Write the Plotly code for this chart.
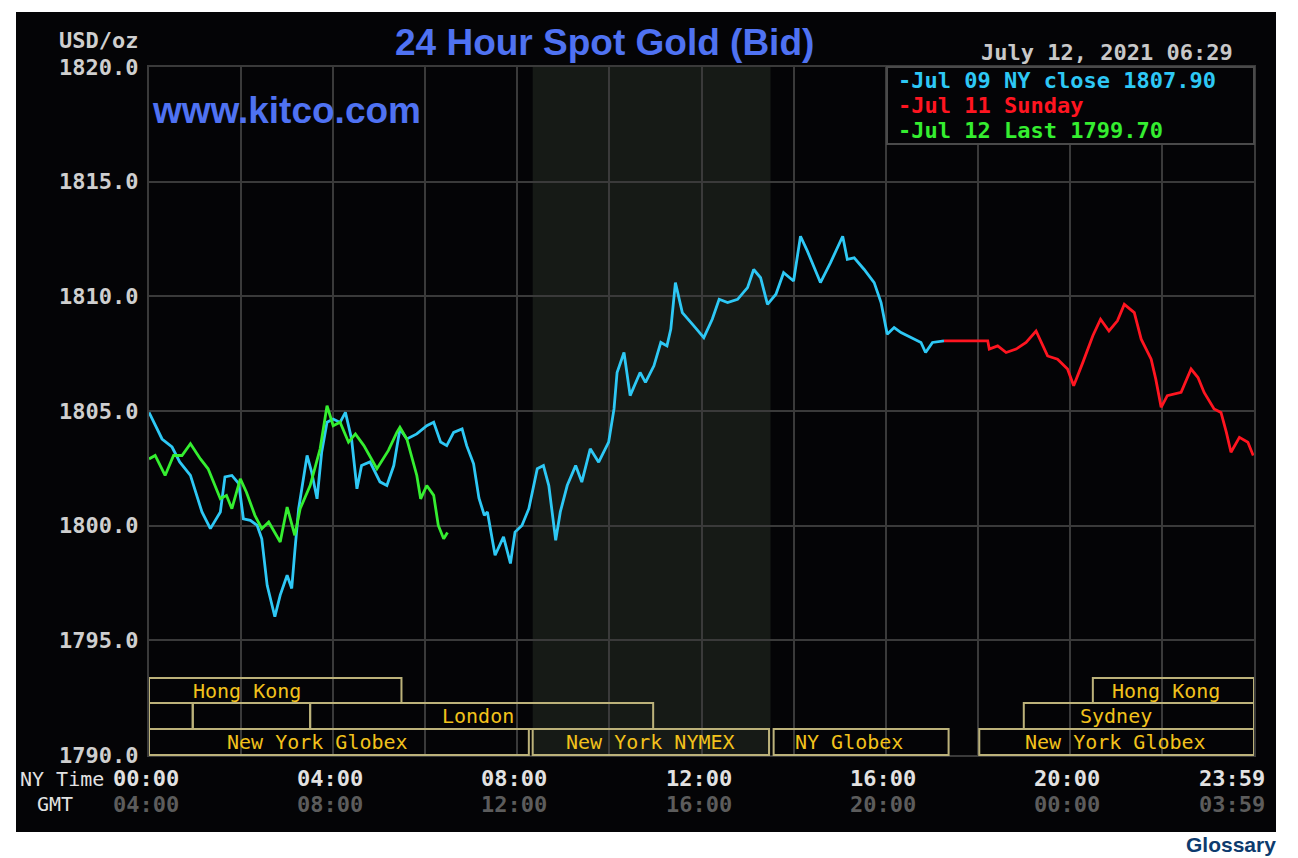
import plotly.graph_objects as go

# ---------------- data ----------------
# minutes after 00:00 NY time, price USD/oz
cyan_min = [0, 17, 30, 40, 54, 69, 80, 93, 99, 108, 117, 123, 132, 141, 147, 154, 164, 171, 180, 186,
            190, 195, 206, 212, 219, 225, 232, 240, 249, 256, 264, 271, 277, 288, 301, 310, 319, 327, 336, 349,
            362, 371, 380, 388, 397, 408, 414, 423, 430, 437, 441, 451, 462, 471, 477, 486, 495, 506, 514, 521,
            530, 536, 545, 556, 564, 575, 586, 599, 606, 610, 619, 627, 640, 647, 658, 667, 675, 680, 686, 695,
            710, 723, 734, 743, 754, 767, 780, 788, 797, 806, 817, 827, 840, 849, 858, 875, 888, 904, 910, 919,
            932, 945, 954, 962, 971, 980, 993, 1006, 1012, 1021, 1036]
cyan_val = [1804.94, 1803.78, 1803.43, 1802.78, 1802.19, 1800.60, 1799.87, 1800.60, 1802.13, 1802.19,
            1801.83, 1800.30, 1800.23, 1800.01, 1799.43, 1797.40, 1796.03, 1796.97, 1797.84, 1797.26,
            1798.87, 1800.74, 1803.06, 1802.33, 1801.17, 1803.20, 1804.51, 1804.65, 1804.50, 1804.94,
            1803.78, 1801.61, 1802.62, 1802.78, 1801.91, 1801.75, 1802.62, 1804.22, 1803.78, 1804.00,
            1804.36, 1804.51, 1803.65, 1803.49, 1804.07, 1804.22, 1803.49, 1802.70, 1801.20, 1800.45,
            1800.60, 1798.71, 1799.51, 1798.35, 1799.72, 1800.01, 1800.74, 1802.48, 1802.62, 1801.75,
            1799.36, 1800.60, 1801.75, 1802.62, 1801.90, 1803.35, 1802.77, 1803.64, 1805.09, 1806.68,
            1807.55, 1805.67, 1806.68, 1806.25, 1806.97, 1807.99, 1807.84, 1808.57, 1810.60, 1809.29,
            1808.71, 1808.20, 1809.00, 1809.87, 1809.73, 1809.87, 1810.38, 1811.17, 1810.81, 1809.65,
            1810.09, 1811.03, 1810.67, 1812.62, 1811.97, 1810.60, 1811.46, 1812.62, 1811.61, 1811.68,
            1811.17, 1810.60, 1809.73, 1808.35, 1808.64, 1808.42, 1808.20, 1807.99, 1807.55, 1807.99,
            1808.06]

red_min = [1036, 1093, 1095, 1106, 1117, 1130, 1143, 1156, 1171, 1184, 1197, 1205, 1217, 1230, 1240,
           1251, 1262, 1271, 1284, 1293, 1306, 1312, 1319, 1327, 1345, 1358, 1367, 1375, 1388, 1397,
           1404, 1410, 1421, 1432, 1439]
red_val = [1808.06, 1808.06, 1807.70, 1807.84, 1807.55, 1807.70, 1807.99, 1808.49, 1807.40, 1807.26,
           1806.83, 1806.10, 1807.12, 1808.28, 1809.00, 1808.49, 1808.93, 1809.65, 1809.29, 1808.13,
           1807.26, 1806.39, 1805.16, 1805.67, 1805.81, 1806.83, 1806.46, 1805.81, 1805.09, 1804.94,
           1804.07, 1803.20, 1803.85, 1803.64, 1803.06]

green_min = [0, 8, 21, 32, 43, 54, 67, 77, 93, 101, 108, 119, 127, 138, 147, 156, 171, 180, 190, 197,
             210, 223, 232, 240, 249, 260, 269, 280, 297, 312, 323, 327, 336, 349, 354, 362, 371, 377,
             384, 389]
green_val = [1802.91, 1803.06, 1802.19, 1803.06, 1803.06, 1803.57, 1802.91, 1802.48, 1801.17, 1801.32,
             1800.74, 1802.04, 1801.46, 1800.45, 1799.87, 1800.16, 1799.29, 1800.81, 1799.58, 1800.74,
             1801.75, 1803.35, 1805.23, 1804.36, 1804.51, 1803.64, 1804.00, 1803.49, 1802.48, 1803.28,
             1804.07, 1804.29, 1803.78, 1802.19, 1801.17, 1801.75, 1801.32, 1800.01, 1799.43, 1799.70]

y_ticks = [1790, 1795, 1800, 1805, 1810, 1815, 1820]
x_tick_min = [0, 240, 480, 720, 960, 1200, 1439]
ny_labels = ["00:00", "04:00", "08:00", "12:00", "16:00", "20:00", "23:59"]
gmt_labels = ["04:00", "08:00", "12:00", "16:00", "20:00", "00:00", "03:59"]

legend_texts = ["-Jul 09 NY close 1807.90", "-Jul 11 Sunday", "-Jul 12 Last 1799.70"]

# trading sessions: row (1 top .. 3 bottom), start, end (minutes), label, label position (minutes)
sess_row = [1, 1, 2, 2, 2, 2, 3, 3, 3, 3]
sess_start = [0, 1230, 0, 57, 210, 1140, 0, 500, 814, 1082]
sess_end = [329, 1440, 57, 210, 657, 1440, 495, 808, 1042, 1440]
sess_label = ["Hong Kong", "Hong Kong", "", "", "London", "Sydney",
              "New York Globex", "New York NYMEX", "NY Globex", "New York Globex"]
sess_label_at = [128, 1325, 0, 0, 429, 1260, 219, 654, 912, 1260]

nymex_shade = [500, 810]

# ---------------- styling ----------------
W, H = 1298, 858
L, R, T, B = 149, 1254, 67, 755
CYAN, RED, GREEN = "#2ec8f5", "#ff1520", "#35ee30"
GRID = "#3a3a3a"
BLUE = "#4f72f2"
KHAKI = "#bcb27a"
GOLD = "#f2c21c"
MONO = "DejaVu Sans Mono"


def PX(x):
    return (x - L) / (R - L)


def PY(y):
    return (B - y) / (B - T)


fig = go.Figure()
for xs, ys, col in [(cyan_min, cyan_val, CYAN), (red_min, red_val, RED), (green_min, green_val, GREEN)]:
    fig.add_trace(go.Scatter(x=xs, y=ys, mode="lines", line=dict(color=col, width=2.8),
                             hoverinfo="skip", showlegend=False))

shapes = []
# black panel
shapes.append(dict(type="rect", xref="paper", yref="paper", x0=PX(16), x1=PX(1276), y0=PY(832), y1=PY(12),
                   fillcolor="#040406", line=dict(width=0), layer="below"))
# NYMEX shading
shapes.append(dict(type="rect", xref="x", yref="paper", x0=nymex_shade[0], x1=nymex_shade[1], y0=0, y1=1,
                   fillcolor="#161a16", line=dict(width=0), layer="below"))
# session boxes
row_y = {1: (678, 703), 2: (703, 729), 3: (729, 755)}
annotations = []
for r, s, e, lab, la in zip(sess_row, sess_start, sess_end, sess_label, sess_label_at):
    yt, yb = row_y[r]
    shapes.append(dict(type="rect", xref="x", yref="paper", x0=s, x1=e, y0=PY(yb), y1=PY(yt),
                       line=dict(color=KHAKI, width=2), layer="above"))
    if lab:
        annotations.append(dict(x=la, y=PY((yt + yb) / 2), xref="x", yref="paper", text=lab,
                                showarrow=False, xanchor="center", yanchor="middle",
                                font=dict(family=MONO, size=20, color=GOLD)))
# legend box
shapes.append(dict(type="rect", xref="paper", yref="paper", x0=PX(887), x1=PX(1254), y0=PY(144), y1=PY(67),
                   fillcolor="#040406", line=dict(color="#4a4a4a", width=2), layer="above"))

# legend texts
for txt, col, yy in zip(legend_texts, [CYAN, RED, GREEN], [80, 105, 130]):
    annotations.append(dict(x=PX(896), y=PY(yy), xref="paper", yref="paper", text=txt, showarrow=False,
                            xanchor="left", yanchor="middle",
                            font=dict(family=MONO, size=22, color=col, weight="bold")))

# y tick labels
for v in y_ticks:
    annotations.append(dict(x=PX(140), y=v, xref="paper", yref="y", text=f"{v:.1f}", showarrow=False,
                            xanchor="right", yanchor="middle",
                            font=dict(family=MONO, size=22, color="#cfcfcf", weight="bold")))
annotations.append(dict(x=PX(140), y=PY(40), xref="paper", yref="paper", text="USD/oz", showarrow=False,
                        xanchor="right", yanchor="middle",
                        font=dict(family=MONO, size=22, color="#cfcfcf", weight="bold")))

# x tick labels
for m, a, g in zip(x_tick_min, ny_labels, gmt_labels):
    anchor = "right" if m >= 1439 else "center"
    xs = 14 if m >= 1439 else -3
    annotations.append(dict(x=m, y=PY(778), xref="x", yref="paper", text=a, showarrow=False,
                            xanchor=anchor, yanchor="middle", xshift=xs,
                            font=dict(family=MONO, size=22, color="#e2e2e2", weight="bold")))
    annotations.append(dict(x=m, y=PY(805), xref="x", yref="paper", text=g, showarrow=False,
                            xanchor=anchor, yanchor="middle", xshift=xs,
                            font=dict(family=MONO, size=22, color="#5c5c5c", weight="bold")))
annotations.append(dict(x=PX(106), y=PY(779), xref="paper", yref="paper", text="NY Time", showarrow=False,
                        xanchor="right", yanchor="middle",
                        font=dict(family=MONO, size=20, color="#e2e2e2")))
annotations.append(dict(x=PX(55), y=PY(804), xref="paper", yref="paper", text="GMT", showarrow=False,
                        xanchor="center", yanchor="middle",
                        font=dict(family=MONO, size=20, color="#e2e2e2")))

# titles
annotations.append(dict(x=PX(604), y=PY(43), xref="paper", yref="paper", text="24 Hour Spot Gold (Bid)",
                        showarrow=False, xanchor="center", yanchor="middle",
                        font=dict(family="Liberation Sans", size=37, color=BLUE, weight="bold")))
annotations.append(dict(x=PX(150), y=PY(110), xref="paper", yref="paper", text="www.kitco.com",
                        showarrow=False, xanchor="left", yanchor="middle",
                        font=dict(family="Liberation Sans", size=37, color=BLUE, weight="bold")))
annotations.append(dict(x=PX(1235), y=PY(52), xref="paper", yref="paper", text="July 12, 2021 06:29",
                        showarrow=False, xanchor="right", yanchor="middle",
                        font=dict(family=MONO, size=22, color="#c8c8c8", weight="bold")))
annotations.append(dict(x=PX(1278), y=PY(858), xref="paper", yref="paper", text="Glossary",
                        showarrow=False, xanchor="right", yanchor="bottom",
                        font=dict(family="Liberation Sans", size=21, color="#0d3b6e", weight="bold")))

fig.update_layout(
    width=W, height=H, autosize=False,
    margin=dict(l=L, r=W - R, t=T, b=H - B, pad=0),
    paper_bgcolor="#ffffff", plot_bgcolor="#040406",
    shapes=shapes, annotations=annotations, showlegend=False,
    xaxis=dict(range=[0, 1440], tick0=0, dtick=120, showgrid=True, gridcolor=GRID, gridwidth=2,
               showticklabels=False, ticks="", zeroline=False, showline=True, mirror=True,
               linecolor=GRID, linewidth=2, fixedrange=True),
    yaxis=dict(range=[1790, 1820], tick0=1790, dtick=5, showgrid=True, gridcolor=GRID, gridwidth=2,
               showticklabels=False, ticks="", zeroline=False, showline=True, mirror=True,
               linecolor=GRID, linewidth=2, fixedrange=True),
)

fig.write_html("out.html", config={"displayModeBar": False})
